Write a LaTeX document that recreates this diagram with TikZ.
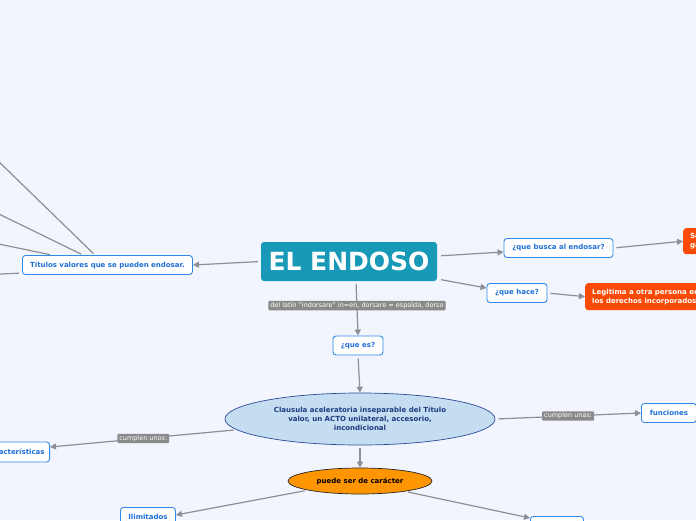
\documentclass[tikz,border=0pt]{standalone}
\usepackage{fontspec}
\setmainfont{DejaVu Sans}
\usetikzlibrary{arrows.meta,positioning,shapes.geometric}
\definecolor{paper}{HTML}{F2F5FE}
\definecolor{rootc}{HTML}{1899B8}
\definecolor{topicb}{HTML}{2F88EA}
\definecolor{topict}{HTML}{1E6FD6}
\definecolor{linkc}{HTML}{8E8E96}
\definecolor{tagc}{HTML}{8A8A8A}
\definecolor{ellf}{HTML}{C4DDF1}
\definecolor{elld}{HTML}{2A4C96}
\definecolor{ellt}{HTML}{1E3A80}
\definecolor{orangec}{HTML}{FF9500}
\definecolor{hotc}{HTML}{FA4A05}

\begin{document}
\begin{tikzpicture}[x=1pt, y=-1pt, font=\fontsize{7}{9}\selectfont\bfseries,
    >={Triangle[length=6pt, width=6pt]}]
  \tikzset{
    link/.style={draw=linkc, line width=1.2pt, ->, shorten <=3pt},
    topic/.style={draw=topicb, fill=white, text=topict, line width=0.9pt,
      rounded corners=3pt, minimum height=19pt, inner xsep=5pt},
    tag/.style={fill=tagc, text=white, font=\fontsize{6.5}{7.5}\selectfont,
      inner xsep=2pt, inner ysep=1.5pt, rounded corners=1pt},
    hot/.style={fill=hotc, text=white, rounded corners=3pt, align=left,
      inner xsep=7pt, anchor=north west}
  }
  \useasboundingbox (0,0) rectangle (696,520);
  \fill[paper] (0,0) rectangle (696,520);
  \clip (0,0) rectangle (696,520);

  % centre
  \node[fill=rootc, text=white, rounded corners=3pt, font=\fontsize{25}{28}\selectfont\bfseries,
    minimum width=176pt, minimum height=39pt] (endoso) at (349,261.5) {EL ENDOSO};
  \node[topic, minimum width=50pt] (quees) at (358,345.5) {¿que es?};
  \node[ellipse, fill=ellf, draw=elld, text=ellt, line width=0.7pt, align=center,
    minimum width=270pt, minimum height=52pt, inner sep=0pt] (clausula) at (360,419)
    {Clausula aceleratoria inseparable del Título\\valor, un ACTO unilateral, accesorio,\\incondicional};
  \node[ellipse, fill=orangec, draw=black!85, line width=0.7pt, text=black,
    minimum width=144pt, minimum height=26pt, inner sep=0pt] (caracter) at (360,481) {puede ser de carácter};

  % right side
  \node[topic, minimum width=109pt] (busca) at (558.5,248) {¿que busca al endosar?};
  \node[topic, minimum width=60pt] (hace) at (517,293) {¿que hace?};
  \node[hot, minimum height=26pt, minimum width=60pt] (seguridad) at (683,228) {Seguridad y\\garantía};
  \node[hot, minimum height=27pt] (legitima) at (585,283) {Legitima a otra persona en el ejercicio de\\los derechos incorporados en el título};
  \node[topic, minimum width=55pt, anchor=west] (funciones) at (641,413) {funciones};
  \node[topic, minimum width=53pt, anchor=north west] (otro) at (530,516) {};

  % left side
  \node[topic, minimum width=170pt, anchor=west] (titulos) at (22,265) {Títulos valores que se pueden endosar.};
  \node[topic, anchor=east, minimum height=20pt] (caract) at (50,452) {Características};
  \node[topic, minimum width=55pt, anchor=north west] (ilimitados) at (120,507) {Ilimitados};
  \coordinate (t1) at (-40,124);
  \coordinate (t2) at (-40,195);
  \coordinate (t3) at (-40,236);
  \coordinate (t4) at (-40,276);

  % connectors
  \draw[link] ([xshift=7pt]endoso.south) -- node[tag, pos=0.45]
    {del latín "indorsare" in=en, dorsare = espalda, dorso} (quees.north);
  \draw[link] (quees.south) -- (clausula.north);
  \draw[link] (clausula.south) -- (caracter.north);
  \draw[link] (endoso.west) -- (titulos.east);
  \draw[link, shorten <=4pt] ([yshift=5.5pt]endoso.east) -- ([yshift=-4pt]busca.west);
  \draw[link, shorten <=4pt] ([yshift=-17.5pt]endoso.east) -- ([yshift=5pt]hace.west);
  \draw[link] (busca.east) -- (seguridad.west);
  \draw[link] (hace.east) -- (legitima.west);
  \draw[link] (clausula.185) -- node[tag] {cumplen unos:} ([yshift=5pt]caract.east);
  \draw[link] (clausula.east) -- node[tag] {cumplen unas:} (funciones.west);
  \draw[link] (caracter.190) -- ([yshift=2pt]ilimitados.east);
  \draw[link] (caracter.347) -- ([yshift=-2pt]otro.north west);
  \draw[link, shorten <=2pt] ([xshift=73pt]titulos.north west) -- (t1);
  \draw[link, shorten <=2pt] ([xshift=61pt]titulos.north west) -- (t2);
  \draw[link, shorten <=2pt] ([xshift=30pt]titulos.north west) -- (t3);
  \draw[link, shorten <=3pt] ([yshift=-8pt]titulos.west) -- (t4);
\end{tikzpicture}
\end{document}
